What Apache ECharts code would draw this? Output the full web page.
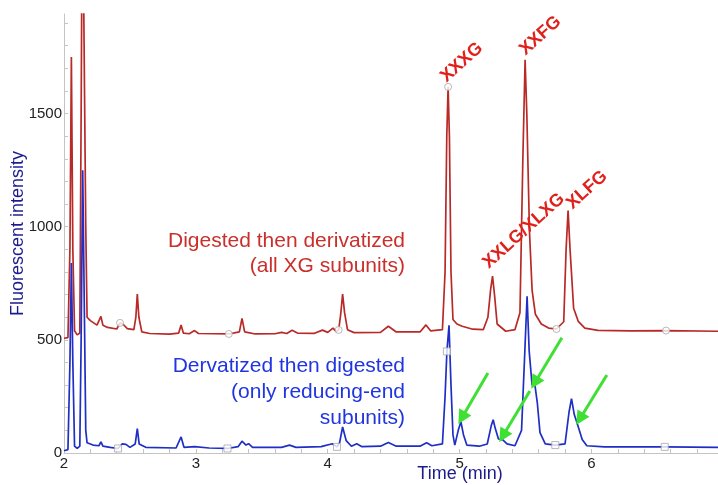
<!DOCTYPE html>
<html>
<head>
<meta charset="utf-8">
<script src="https://cdn.jsdelivr.net/npm/echarts@6/dist/echarts.min.js"></script>
<style>
  html, body { margin: 0; padding: 0; background: #fff; }
  #chart { width: 718px; height: 485px; }
</style>
</head>
<body>
<div id="chart"></div>
<script>
// HPLC fluorescence traces of xyloglucan (XG) oligosaccharides
const FONT = "'Liberation Sans', Arial, sans-serif";

// Digested then derivatized (red trace): time (min) and intensity
const redT = [2.00, 2.03, 2.045, 2.056, 2.067, 2.08, 2.10, 2.12, 2.13, 2.14, 2.155, 2.165, 2.175, 2.20, 2.25, 2.265, 2.28, 2.295, 2.33, 2.40, 2.425, 2.45, 2.48, 2.53, 2.545, 2.556, 2.568, 2.59, 2.65, 2.80, 2.87, 2.888, 2.905, 2.95, 2.99, 3.02, 3.25, 3.33, 3.35, 3.37, 3.45, 3.60, 3.65, 3.69, 3.73, 3.77, 3.90, 3.96, 4.00, 4.04, 4.065, 4.083, 4.098, 4.113, 4.128, 4.15, 4.20, 4.40, 4.46, 4.52, 4.70, 4.745, 4.78, 4.87, 4.89, 4.903, 4.913, 4.923, 4.935, 4.95, 4.98, 5.02, 5.10, 5.18, 5.215, 5.235, 5.25, 5.265, 5.285, 5.35, 5.42, 5.458, 5.48, 5.497, 5.51, 5.53, 5.55, 5.575, 5.62, 5.675, 5.735, 5.79, 5.808, 5.823, 5.838, 5.865, 5.90, 5.95, 6.05, 6.30, 6.566, 6.96];
const redV = [507, 510, 900, 1750, 900, 540, 522, 530, 1500, 2600, 2600, 1000, 600, 585, 565, 570, 604, 565, 555, 548, 575, 568, 550, 545, 600, 702, 600, 535, 528, 525, 530, 566, 530, 527, 541, 528, 526, 535, 595, 535, 526, 527, 533, 528, 542, 530, 529, 543, 533, 552, 536, 544, 610, 702, 620, 545, 532, 533, 560, 535, 535, 566, 540, 545, 800, 1400, 1618, 1400, 800, 590, 570, 560, 547, 545, 600, 720, 782, 700, 570, 538, 545, 620, 1300, 1738, 1500, 982, 720, 613, 570, 552, 548, 580, 900, 1071, 900, 640, 582, 552, 542, 540, 541, 538];

// Derivatized then digested (blue trace)
const blueT = [2.00, 2.03, 2.045, 2.056, 2.067, 2.08, 2.10, 2.12, 2.13, 2.142, 2.155, 2.165, 2.175, 2.22, 2.265, 2.28, 2.295, 2.35, 2.41, 2.44, 2.47, 2.50, 2.54, 2.556, 2.57, 2.62, 2.85, 2.888, 2.91, 2.99, 3.10, 3.24, 3.32, 3.35, 3.38, 3.40, 3.43, 3.65, 3.71, 3.76, 3.95, 4.035, 4.07, 4.09, 4.113, 4.14, 4.18, 4.22, 4.26, 4.40, 4.46, 4.52, 4.70, 4.75, 4.79, 4.87, 4.89, 4.904, 4.92, 4.935, 4.95, 4.964, 4.99, 5.01, 5.03, 5.055, 5.15, 5.21, 5.24, 5.255, 5.27, 5.295, 5.328, 5.36, 5.42, 5.47, 5.495, 5.512, 5.528, 5.55, 5.571, 5.59, 5.61, 5.65, 5.726, 5.80, 5.83, 5.849, 5.87, 5.89, 5.904, 5.93, 5.965, 6.10, 6.556, 6.96];
const blueV = [10, 15, 400, 840, 400, 30, 20, 30, 500, 1250, 600, 100, 45, 35, 32, 49, 30, 25, 20, 40, 38, 25, 40, 108, 40, 25, 22, 71, 25, 28, 22, 20, 28, 52, 35, 41, 25, 25, 35, 25, 28, 41, 27, 45, 115, 55, 30, 41, 28, 30, 46, 30, 30, 45, 32, 40, 250, 449, 564, 300, 80, 35, 100, 138, 80, 35, 30, 40, 120, 147, 110, 62, 58, 40, 32, 100, 450, 693, 450, 300, 302, 220, 90, 40, 35, 40, 180, 240, 170, 135, 128, 60, 32, 27, 27, 25];

// Open markers sitting on each trace
const redMarkT = [2.425, 3.25, 4.083, 4.913, 5.735, 6.566];
const redMarkV = [575, 526, 544, 1618, 548, 541];
const blueMarkT = [2.41, 3.24, 4.07, 4.904, 5.726, 6.556];
const blueMarkV = [20, 20, 27, 449, 35, 27];

// Peak names, placed at the apex of the red peaks
const peakNames = ['XXXG', 'XXFG', 'XXLG/XLXG', 'XLFG'];
const peakT = [4.913, 5.497, 5.25, 5.823];
const peakV = [1618, 1738, 782, 1071];

// Green arrows pointing at reducing-end peaks: tail -> tip
const arrowTailT = [5.215, 5.533, 5.776, 6.117];
const arrowTailV = [354, 274, 509, 345];
const arrowTipT = [5.017, 5.328, 5.571, 5.912];
const arrowTipV = [155, 75, 310, 150];

// Axis tick values
const xMajor = [2, 3, 4, 5, 6];
const yMajor = [0, 500, 1000, 1500];

const zip = (a, b) => a.map((v, i) => [v, b[i]]);
const near = (v, list) => list.some(m => Math.abs(v - m) < 1e-6);

const RED = '#b82a28';
const BLUE = '#1f2ec4';
const AXIS_GRAY = '#c4c4c4';

const chart = echarts.init(document.getElementById('chart'), null, { renderer: 'canvas' });

const option = {
  animation: false,
  backgroundColor: '#ffffff',
  grid: { left: 64, right: 0, top: 14, bottom: 32, containLabel: false, outerBoundsMode: 'none' },
  xAxis: {
    type: 'value', min: 2, max: 6.96, interval: 0.2,
    axisLine: { show: true, lineStyle: { color: AXIS_GRAY, width: 1 } },
    axisTick: { show: true, inside: true, length: 4, lineStyle: { color: AXIS_GRAY } },
    axisLabel: {
      color: '#222', fontSize: 15, fontFamily: FONT, margin: 3, showMaxLabel: false,
      formatter: v => near(v, xMajor) ? String(Math.round(v)) : ''
    },
    splitLine: { show: false }
  },
  yAxis: {
    type: 'value', min: 0, max: 1940, interval: 100,
    name: 'Fluorescent intensity', nameLocation: 'middle', nameGap: 37, nameMoveOverlap: false,
    nameTextStyle: { color: '#1c1c8e', fontSize: 18, fontFamily: FONT },
    axisLine: { show: true, lineStyle: { color: AXIS_GRAY, width: 1 } },
    axisTick: { show: true, inside: true, length: 4, lineStyle: { color: AXIS_GRAY } },
    axisLabel: {
      color: '#222', fontSize: 15, fontFamily: FONT, margin: 2, showMaxLabel: false,
      formatter: v => near(v, yMajor) ? String(Math.round(v)) : ''
    },
    splitLine: { show: false }
  },
  series: [
    {
      name: 'Digested then derivatized', type: 'line', data: zip(redT, redV),
      showSymbol: false, symbol: 'none', clip: true,
      lineStyle: { color: RED, width: 1.7 }, z: 2
    },
    {
      name: 'Derivatized then digested', type: 'line', data: zip(blueT, blueV),
      showSymbol: false, symbol: 'none', clip: true,
      lineStyle: { color: BLUE, width: 1.7 }, z: 3,
      markLine: {
        silent: true, animation: false,
        symbol: ['none', 'triangle'], symbolSize: [14, 14],
        label: { show: false },
        lineStyle: { color: '#3fe034', width: 3, type: 'solid' },
        emphasis: { disabled: true },
        data: arrowTailT.map((t, i) => [
          { coord: [t, arrowTailV[i]] },
          { coord: [arrowTipT[i], arrowTipV[i]] }
        ])
      }
    },
    {
      type: 'scatter', data: zip(redMarkT, redMarkV), symbol: 'circle', symbolSize: 7,
      itemStyle: { color: '#fff', borderColor: '#a8a8a8', borderWidth: 1 }, z: 5, silent: true
    },
    {
      type: 'scatter', data: zip(blueMarkT, blueMarkV), symbol: 'rect', symbolSize: 7,
      itemStyle: { color: '#fff', borderColor: '#a8a8a8', borderWidth: 1 }, z: 5, silent: true
    }
  ]
};

chart.setOption(option);

// Peak names: rotated text anchored just beside each apex
const labelShift = [[1, -1], [3, -1], [-1, -4], [7, 2]];
const ROT = 42 * Math.PI / 180;
const graphics = peakNames.map((name, i) => {
  const p = chart.convertToPixel({ gridIndex: 0 }, [peakT[i], peakV[i]]);
  return {
    type: 'text', x: p[0] + labelShift[i][0], y: p[1] + labelShift[i][1], rotation: ROT, z: 10,
    style: {
      text: name, fill: '#e0211b', font: 'bold 18px ' + FONT,
      align: 'left', verticalAlign: 'bottom'
    }
  };
});

// Trace descriptions
graphics.push({
  type: 'text', x: 405, y: 229, z: 10,
  style: {
    text: 'Digested then derivatized\n(all XG subunits)', fill: '#c9302c',
    font: '21px ' + FONT, align: 'right', verticalAlign: 'top', lineHeight: 25
  }
});
graphics.push({
  type: 'text', x: 405, y: 353, z: 10,
  style: {
    text: 'Dervatized then digested\n(only reducing-end\nsubunits)', fill: '#2035e0',
    font: '21px ' + FONT, align: 'right', verticalAlign: 'top', lineHeight: 26
  }
});
graphics.push({
  type: 'text', x: 460, y: 474, z: 10,
  style: {
    text: 'Time (min)', fill: '#1c1c8e', font: '18px ' + FONT,
    align: 'center', verticalAlign: 'middle'
  }
});

chart.setOption({ graphic: graphics });
</script>
</body>
</html>
